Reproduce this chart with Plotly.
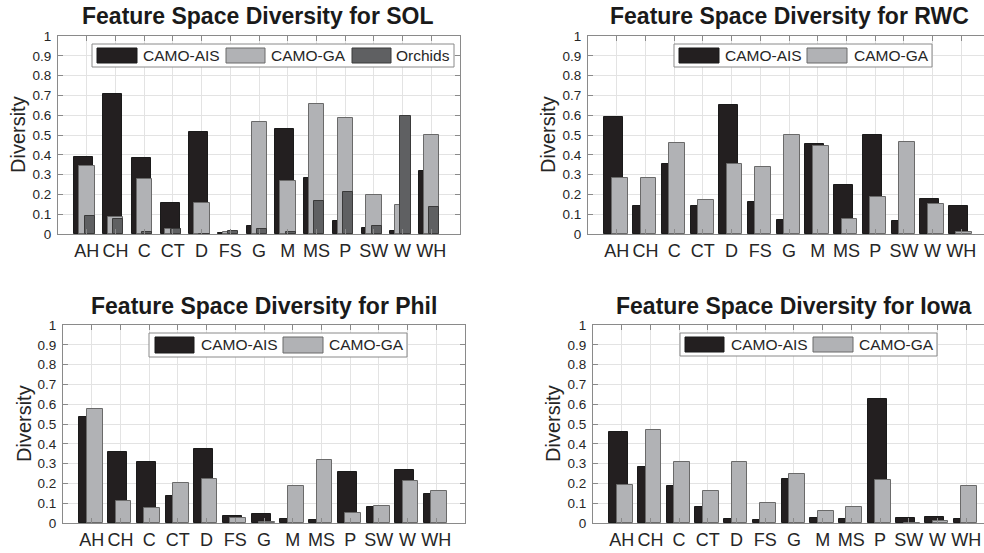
import plotly.graph_objects as go

W, H = 984, 553

categories = ["AH", "CH", "C", "CT", "D", "FS", "G", "M", "MS", "P", "SW", "W", "WH"]

sol_ais = [0.387, 0.709, 0.384, 0.158, 0.513, 0.005, 0.039, 0.529, 0.281, 0.067, 0.029, 0.015, 0.320]
sol_ga = [0.342, 0.088, 0.278, 0.024, 0.155, 0.008, 0.564, 0.269, 0.658, 0.584, 0.195, 0.146, 0.498]
sol_orchids = [0.091, 0.076, 0.008, 0.027, 0.0, 0.013, 0.025, 0.012, 0.167, 0.214, 0.039, 0.598, 0.138]

rwc_ais = [0.591, 0.143, 0.355, 0.143, 0.653, 0.160, 0.069, 0.453, 0.247, 0.498, 0.064, 0.175, 0.140]
rwc_ga = [0.283, 0.285, 0.458, 0.173, 0.352, 0.338, 0.502, 0.444, 0.074, 0.187, 0.465, 0.152, 0.008]

phil_ais = [0.533, 0.359, 0.310, 0.138, 0.374, 0.037, 0.047, 0.019, 0.013, 0.260, 0.083, 0.266, 0.147]
phil_ga = [0.575, 0.111, 0.078, 0.204, 0.224, 0.025, 0.005, 0.187, 0.320, 0.049, 0.084, 0.212, 0.164]

iowa_ais = [0.460, 0.282, 0.189, 0.083, 0.022, 0.017, 0.221, 0.025, 0.020, 0.627, 0.025, 0.032, 0.019]
iowa_ga = [0.191, 0.469, 0.309, 0.160, 0.307, 0.099, 0.250, 0.062, 0.081, 0.216, 0.0, 0.010, 0.187]

y_ticks = [0, 0.1, 0.2, 0.3, 0.4, 0.5, 0.6, 0.7, 0.8, 0.9, 1]
y_ticktext = ["0", "0.1", "0.2", "0.3", "0.4", "0.5", "0.6", "0.7", "0.8", "0.9", "1"]

C_AIS = "#231f20"
C_GA = "#b1b2b5"
C_ORC = "#5f6062"
E_AIS = "#1a1a1a"
E_GA = "#6a6a6a"
E_ORC = "#3a3a3a"
AXC = "#8a8a8a"
GRID = "#e3e3e3"
TXT = "#262626"
FONT = "Liberation Sans, Arial, sans-serif"


def px(x):
    return x / W


def py(y):
    return 1 - y / H


panels = [
    dict(title="Feature Space Diversity for SOL", ax="", xd=(58, 460), yd=(36, 234), xmax=13.0,
         series=[("CAMO-AIS", sol_ais, C_AIS, E_AIS, -0.43, 0.665),
                 ("CAMO-GA", sol_ga, C_GA, E_GA, -0.26, 0.54),
                 ("Orchids", sol_orchids, C_ORC, E_ORC, -0.075, 0.355)],
         tcx=258, tcy=16, ylx=18, leg=dict(box=(92, 454, 44, 67), items=[(97, 137, 141), (226, 265, 269), (352, 391, 394)])),
    dict(title="Feature Space Diversity for RWC", ax="2", xd=(588, 984), yd=(36, 234), xmax=12.79,
         series=[("CAMO-AIS", rwc_ais, C_AIS, E_AIS, -0.43, 0.66),
                 ("CAMO-GA", rwc_ga, C_GA, E_GA, -0.17, 0.55)],
         tcx=789, tcy=16, ylx=548, leg=dict(box=(674, 932, 44, 67), items=[(679, 719, 723), (807, 847, 852)])),
    dict(title="Feature Space Diversity for Phil", ax="3", xd=(63, 465), yd=(325, 523), xmax=13.0,
         series=[("CAMO-AIS", phil_ais, C_AIS, E_AIS, -0.43, 0.66),
                 ("CAMO-GA", phil_ga, C_GA, E_GA, -0.17, 0.55)],
         tcx=264, tcy=306, ylx=24, leg=dict(box=(149, 407, 333, 357), items=[(155, 194, 199), (283, 323, 327)])),
    dict(title="Feature Space Diversity for Iowa", ax="4", xd=(593, 984), yd=(325, 523), xmax=12.62,
         series=[("CAMO-AIS", iowa_ais, C_AIS, E_AIS, -0.43, 0.66),
                 ("CAMO-GA", iowa_ga, C_GA, E_GA, -0.17, 0.55)],
         tcx=794, tcy=306, ylx=553, leg=dict(box=(680, 937, 333, 356), items=[(685, 724, 729), (813, 853, 857)])),
]

fig = go.Figure()
annotations = []
shapes = []
layout = {}

for i, p in enumerate(panels):
    xa = "x" + p["ax"]
    ya = "y" + p["ax"]
    for name, vals, col, edge, off, wd in p["series"]:
        fig.add_trace(go.Bar(
            x=categories, y=vals, name=name, xaxis=xa, yaxis=ya,
            offset=off, width=wd,
            marker=dict(color=col, line=dict(color=edge, width=1)),
            showlegend=False,
        ))
    right_panel = p["ax"] in ("2", "4")
    layout["xaxis" + p["ax"]] = dict(
        domain=[px(p["xd"][0]), px(p["xd"][1])],
        anchor=ya, type="category", range=[-1, p["xmax"]],
        tickmode="array", tickvals=categories, ticktext=categories,
        showgrid=True, gridcolor=GRID, gridwidth=1,
        showline=True, linecolor=AXC, linewidth=1, mirror="ticks",
        ticks="inside", ticklen=5, tickcolor=AXC,
        tickfont=dict(family=FONT, size=18, color=TXT),
        ticklabelstandoff=0, zeroline=False, fixedrange=True, automargin=False,
    )
    layout["yaxis" + p["ax"]] = dict(
        domain=[py(p["yd"][1]), py(p["yd"][0])],
        anchor=xa, range=[0, 1],
        tickmode="array", tickvals=y_ticks, ticktext=y_ticktext,
        showgrid=True, gridcolor=GRID, gridwidth=1,
        showline=True, linecolor=AXC, linewidth=1,
        mirror=False if right_panel else "ticks",
        ticks="inside", ticklen=5, tickcolor=AXC,
        tickfont=dict(family=FONT, size=13.5, color=TXT),
        ticklabelstandoff=3, zeroline=False, fixedrange=True, automargin=False,
    )
    annotations.append(dict(
        text="<b>" + p["title"] + "</b>", x=px(p["tcx"]), y=py(p["tcy"]),
        xref="paper", yref="paper", xanchor="center", yanchor="middle",
        showarrow=False, font=dict(family=FONT, size=23, color="#1a1a1a"),
    ))
    ymid = (p["yd"][0] + p["yd"][1]) / 2
    annotations.append(dict(
        text="Diversity", x=px(p["ylx"]), y=py(ymid), xref="paper", yref="paper",
        xanchor="center", yanchor="middle", textangle=-90, showarrow=False,
        font=dict(family=FONT, size=20, color=TXT),
    ))
    bx0, bx1, by0, by1 = p["leg"]["box"]
    shapes.append(dict(type="rect", xref="paper", yref="paper",
                       x0=px(bx0), x1=px(bx1), y0=py(by1), y1=py(by0),
                       fillcolor="white", line=dict(color=AXC, width=1), layer="above"))
    sy0, sy1 = by0 + 4, by1 - 4
    for (sx0, sx1, tx), (name, vals, col, edge, off, wd) in zip(p["leg"]["items"], p["series"]):
        shapes.append(dict(type="rect", xref="paper", yref="paper",
                           x0=px(sx0), x1=px(sx1), y0=py(sy1), y1=py(sy0),
                           fillcolor=col, line=dict(color=edge, width=1), layer="above"))
        annotations.append(dict(
            text=name, x=px(tx), y=py((by0 + by1) / 2), xref="paper", yref="paper",
            xanchor="left", yanchor="middle", showarrow=False,
            font=dict(family=FONT, size=15.5, color=TXT),
        ))

fig.update_layout(
    width=W, height=H, margin=dict(l=0, r=0, t=0, b=0, pad=0, autoexpand=False),
    paper_bgcolor="white", plot_bgcolor="white",
    barmode="overlay", bargap=0,
    annotations=annotations, shapes=shapes, showlegend=False,
    **layout,
)

fig.write_html("out.html", config={"displayModeBar": False})
